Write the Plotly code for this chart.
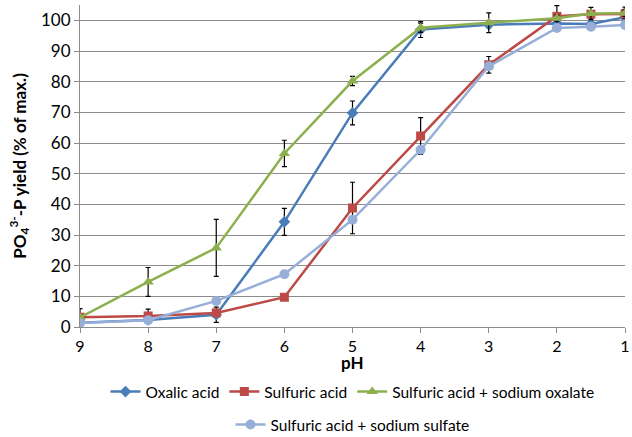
import plotly.graph_objects as go

ph = [9, 8, 7, 6, 5, 4, 3, 2, 1.5, 1]
x_ticks = [9, 8, 7, 6, 5, 4, 3, 2, 1]

oxalic = [1.4, 2.3, 4.0, 34.3, 69.8, 97.0, 98.6, 99.0, 98.8, 101.0]
oxalic_err = [0, 0, 2.5, 4.4, 3.9, 2.6, 1.0, 1.0, 1.8, 3.3]

sulfuric = [3.2, 3.6, 4.6, 9.7, 38.8, 62.3, 85.5, 101.3, 102.0, 102.1]
sulfuric_err = [2.8, 2.2, 0, 0, 8.4, 6.0, 2.7, 3.5, 0, 1.5]

sulf_oxalate = [3.1, 14.7, 25.8, 56.6, 80.2, 97.6, 99.2, 100.7, 102.2, 102.3]
sulf_oxalate_err = [0, 4.7, 9.3, 4.3, 1.5, 1.5, 3.2, 1.0, 2.0, 1.0]

sulf_sulfate = [1.3, 2.2, 8.5, 17.2, 35.0, 57.8, 85.0, 97.5, 97.9, 98.5]

series = [
    ("Oxalic acid", oxalic, oxalic_err, "#4A7DB8", "diamond", 9, "legend"),
    ("Sulfuric acid", sulfuric, sulfuric_err, "#BC4A46", "square", 9, "legend"),
    ("Sulfuric acid + sodium oxalate", sulf_oxalate, sulf_oxalate_err, "#8DB04F", "triangle-up", 10, "legend"),
    ("Sulfuric acid + sodium sulfate", sulf_sulfate, None, "#97AFD8", "circle", 10, "legend2"),
]

fig = go.Figure()
for name, vals, err, color, sym, msize, leg in series:
    kw = {}
    if err is not None:
        kw["error_y"] = dict(type="data", array=err, visible=True, color="black",
                             thickness=1.2, width=2.5)
    fig.add_trace(go.Scatter(
        x=ph, y=vals, name=name, mode="lines+markers",
        line=dict(color=color, width=2.5),
        marker=dict(symbol=sym, size=msize, color=color),
        legend=leg, **kw))

font = "Lato, 'Open Sans', sans-serif"
fig.update_layout(
    width=632, height=437,
    margin=dict(l=80, r=7, t=5, b=110, autoexpand=False),
    plot_bgcolor="white", paper_bgcolor="white",
    font=dict(family=font, size=16, color="black"),
    xaxis=dict(range=[9, 1], tickvals=x_ticks, ticktext=[str(v) for v in x_ticks],
               showgrid=False, showline=True, linecolor="#8C8C8C", linewidth=1,
               ticks="outside", ticklen=5, tickcolor="#8C8C8C", zeroline=False,
               tickfont=dict(size=16)),
    yaxis=dict(range=[0, 105], tickvals=list(range(0, 101, 10)),
               showgrid=True, gridcolor="#8C8C8C", gridwidth=1,
               showline=True, linecolor="#8C8C8C", linewidth=1,
               ticks="outside", ticklen=5, tickcolor="#8C8C8C", zeroline=False,
               tickfont=dict(size=17),
               title=dict(text="<b>PO<sub>4</sub><sup>3-</sup>-P yield (% of max.)</b>",
                          standoff=10, font=dict(size=17))),
    annotations=[dict(text="<b>pH</b>", x=0.5, xref="paper", xanchor="center",
                      y=(327 - 362) / 322, yref="paper", yanchor="middle",
                      showarrow=False, font=dict(size=17))],
    legend=dict(orientation="h", x=0.5, xanchor="center", xref="paper",
                y=1 - 392 / 437, yanchor="middle", yref="container",
                font=dict(size=15.5), itemwidth=30, tracegroupgap=0),
    legend2=dict(orientation="h", x=0.5, xanchor="center", xref="paper",
                 y=1 - 425 / 437, yanchor="middle", yref="container",
                 font=dict(size=15.5), itemwidth=30),
)

fig.write_html("out.html")
